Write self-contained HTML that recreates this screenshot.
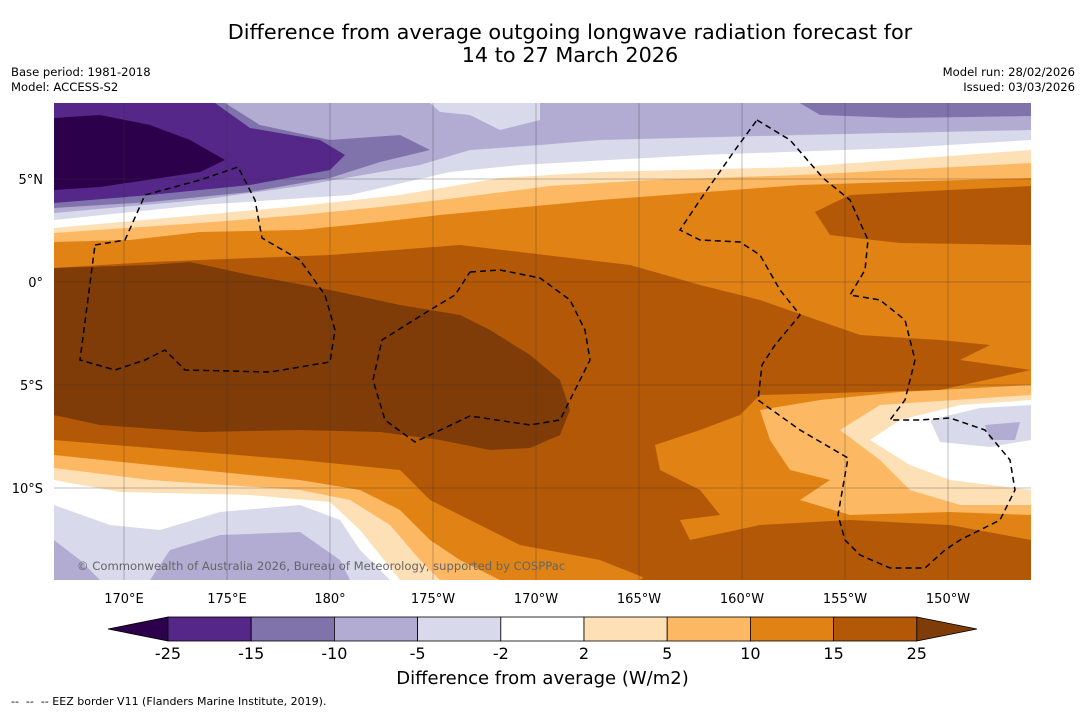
<!DOCTYPE html>
<html><head><meta charset="utf-8"><style>
body{margin:0;background:#fff;font-family:"DejaVu Sans",sans-serif;}
#root{position:relative;width:1085px;height:713px;overflow:hidden;background:#fff;}
.t{position:absolute;white-space:nowrap;}
</style></head><body>
<div id="root">
<div class="t" style="left:0;width:1140px;text-align:center;top:21px;font-size:20.8px;line-height:23px;color:#000">Difference from average outgoing longwave radiation forecast for<br>14 to 27 March 2026</div>
<div class="t" style="left:11px;top:65px;font-size:11.6px;line-height:15px">Base period: 1981-2018<br>Model: ACCESS-S2</div>
<div class="t" style="right:10px;top:65px;font-size:11.6px;line-height:15px;text-align:right">Model run: 28/02/2026<br>Issued: 03/03/2026</div>
<svg id="svg" width="1085" height="713" style="position:absolute;left:0;top:0"></svg>
<div class="t" style="left:0;width:1085px;text-align:center;top:668px;font-size:18px">Difference from average (W/m2)</div>
<div class="t" style="left:11px;top:695px;font-size:11px">-- &nbsp;-- &nbsp;-- EEZ border V11 (Flanders Marine Institute, 2019).</div>
</div>
<script>
const levels=[-25,-15,-10,-5,-2,2,5,10,15,25];
const colors=["#2d004b","#542788","#8073ac","#b2abd2","#d8daeb","#ffffff","#fee0b6","#fdb863","#e08214","#b35806","#7f3b08"];
const lonTicks=[170,175,180,-175,-170,-165,-160,-155,-150];
const lonLabels=["170°E","175°E","180°","175°W","170°W","165°W","160°W","155°W","150°W"];
const latTicks=[5,0,-5,-10];
const latLabels=["5°N","0°","5°S","10°S"];
const NS="http://www.w3.org/2000/svg";
const FF='DejaVu Sans';
const svg=document.getElementById('svg');
const X0=54,X1=1031,Y0=103,Y1=580;
function xLon(l){const e=l<0?l+360:l;return 124+(e-170)*20.6;}
function yLat(a){return 282-a*20.6;}
function mk(tag,at,name){const e=document.createElementNS(NS,tag);for(const k in at)e.setAttribute(k,at[k]);


svg.appendChild(e);return e;}
const clip=mk('clipPath',{id:'mc'},'map-clip');
const cr=document.createElementNS(NS,'rect');cr.setAttribute('x',X0);cr.setAttribute('y',Y0);cr.setAttribute('width',X1-X0);cr.setAttribute('height',Y1-Y0);clip.appendChild(cr);
const g=mk('g',{'clip-path':'url(#mc)'},'map-area');
function poly(pts,c,name){const e=document.createElementNS(NS,'polygon');e.setAttribute('points',pts.map(p=>p.join(',')).join(' '));e.setAttribute('fill',c);


g.appendChild(e);}
const T=[[1031,103],[54,103]], B=[[1031,580],[54,580]];
poly([[54,103],[1031,103],[1031,580],[54,580]],colors[9],'band-15-25');
poly([...T,[54,268],[150,262],[330,255],[460,245],[630,265],[700,285],[760,300],[860,335],[940,340],[990,345],[960,360],[1031,370]].reverse(),colors[8],'band-10-15-north');
poly([[815,212],[850,195],[950,190],[1031,186],[1031,245],[900,243],[830,235]],colors[9],'band-15-25-ne');
poly([...T,[54,242],[130,240],[200,232],[300,230],[380,222],[440,215],[600,200],[800,185],[1031,178]].reverse(),colors[7],'band-5-10-north');
poly([...T,[54,233],[200,223],[300,215],[380,207],[440,200],[550,186],[650,180],[800,175],[1031,163]].reverse(),colors[6],'band-2-5-north');
poly([...T,[54,228],[200,215],[300,206],[400,195],[500,178],[600,172],[800,167],[1031,150]].reverse(),colors[5],'band-white-north');
poly([...T,[54,220],[200,205],[350,195],[450,172],[520,165],[700,155],[900,148],[1031,140]].reverse(),colors[4],'band-m2-north');
poly([...T,[54,213],[200,200],[300,186],[420,165],[470,150],[540,145],[600,140],[800,135],[1031,130]].reverse(),colors[3],'band-m5-north');
poly([[430,103],[540,103],[540,120],[500,130],[470,115],[440,112]],colors[4],'band-m2-top');
poly([[54,103],[225,103],[260,125],[330,140],[400,135],[430,150],[380,162],[330,178],[250,192],[150,202],[54,208]],colors[2],'band-m10-nw');
poly([[800,103],[1031,103],[1031,116],[900,118],[820,115]],colors[2],'band-m10-ne');
poly([[54,103],[215,103],[250,128],[320,140],[345,155],[330,170],[250,185],[150,195],[54,203]],colors[1],'band-m15-nw');
poly([[54,118],[100,115],[150,125],[190,140],[225,160],[200,172],[100,187],[54,190]],colors[0],'band-m25-nw');
poly([[54,268],[150,265],[190,262],[250,275],[330,290],[400,305],[460,315],[490,330],[530,355],[560,380],[570,410],[560,435],[530,448],[490,450],[440,440],[380,432],[300,430],[200,432],[100,425],[54,415]],colors[10],'band-25plus');
poly([[455,290],[480,270],[520,268],[560,280],[600,295],[640,300],[660,310],[560,320],[480,315]],colors[9],'band-15-25-mid');
poly([...B,[54,440],[200,452],[300,460],[400,470],[430,500],[470,520],[520,545],[600,560],[650,580]],colors[8],'band-10-15-sw');
poly([[54,580],[500,580],[460,560],[430,540],[400,510],[360,490],[300,480],[200,470],[54,455]],colors[7],'band-5-10-sw');
poly([[54,580],[440,580],[420,560],[390,525],[350,500],[300,490],[150,480],[54,468]],colors[6],'band-2-5-sw');
poly([[54,580],[400,580],[360,530],[330,502],[250,495],[120,492],[54,480]],colors[5],'band-white-sw');
poly([[54,580],[390,580],[360,550],[340,520],[300,505],[220,512],[160,530],[110,525],[54,505]],colors[4],'band-m2-sw');
poly([[54,540],[80,560],[100,580],[54,580]],colors[3],'band-m5-sw-a');
poly([[150,580],[170,550],[220,535],[300,532],[340,560],[350,580]],colors[3],'band-m5-sw-b');
poly([[1031,370],[940,390],[760,395],[740,415],[700,430],[655,445],[660,470],[700,490],[720,515],[680,520],[690,540],[1031,540]],colors[8],'band-10-15-se');
poly([[640,580],[690,540],[760,525],[850,520],[950,525],[1031,540],[1031,580]],colors[9],'band-15-25-se');
poly([[1031,385],[900,392],[820,400],[760,410],[770,440],[790,470],[830,480],[800,500],[850,515],[950,512],[1031,515]],colors[7],'band-5-10-se');
poly([[1031,395],[880,405],[840,430],[880,460],[910,490],[960,505],[1031,505]],colors[6],'band-2-5-se');
poly([[1031,400],[960,405],[900,420],[870,440],[910,465],[950,480],[1031,490]],colors[5],'band-white-se');
poly([[930,420],[980,408],[1031,405],[1031,440],[990,447],[940,442]],colors[4],'band-m2-se');
poly([[985,425],[1020,422],[1015,440],[990,440]],colors[3],'band-m5-se');
lonTicks.forEach((l,i)=>{const x=xLon(l);
mk('line',{x1:x,x2:x,y1:Y0,y2:Y1,stroke:'#333','stroke-width':0.5,'stroke-opacity':0.6},'lon-gridline');
mk('text',{x:x,y:603,'text-anchor':'middle','font-size':13,'font-family':FF},'lon-tick-label').textContent=lonLabels[i];});
latTicks.forEach((a,i)=>{const y=yLat(a);
mk('line',{x1:X0,x2:X1,y1:y,y2:y,stroke:'#333','stroke-width':0.5,'stroke-opacity':0.6},'lat-gridline');
mk('text',{x:43,y:y+5,'text-anchor':'end','font-size':13,'font-family':FF},'lat-tick-label').textContent=latLabels[i];});
const eez=[
[[95,245],[125,240],[145,195],[200,180],[238,167],[255,200],[262,238],[300,260],[325,295],[335,330],[330,362],[270,372],[185,370],[165,350],[145,360],[115,370],[80,360],[95,245]],
[[470,272],[500,270],[540,278],[570,300],[585,330],[590,360],[575,390],[560,420],[530,425],[470,416],[415,442],[385,420],[373,380],[382,340],[430,310],[455,295],[470,272]],
[[757,120],[790,140],[823,178],[850,200],[868,240],[865,270],[850,295],[880,300],[905,320],[915,360],[905,400],[890,420],[920,420],[950,418],[985,430],[1010,460],[1015,490],[1000,520],[960,540],[945,550],[925,568],[890,568],[860,555],[845,540],[838,515],[848,458],[800,430],[758,400],[762,365],[775,345],[800,315],[780,290],[760,255],[740,242],[700,240],[680,230],[700,200],[735,150],[757,120]]];
eez.forEach(p=>{const e=document.createElementNS(NS,'polyline');e.setAttribute('points',p.map(q=>q.join(',')).join(' '));e.setAttribute('fill','none');e.setAttribute('stroke','#000');e.setAttribute('stroke-width',1.5);e.setAttribute('stroke-dasharray','6,4');


g.appendChild(e);});
const ct=mk('text',{x:77,y:570,'font-size':11.6,fill:'#666','font-family':FF},'copyright-text');ct.textContent='© Commonwealth of Australia 2026, Bureau of Meteorology, supported by COSPPac';
const cx0=168,cw=83.2,cy=617,ch=24;
mk('polygon',{points:`${cx0},${cy} 108,${cy+ch/2} ${cx0},${cy+ch}`,fill:colors[0],stroke:'#000','stroke-width':0.8},'colorbar-extend-low');
for(let i=0;i<levels.length-1;i++){
mk('rect',{x:cx0+i*cw,y:cy,width:cw,height:ch,fill:colors[i+1],stroke:'#000','stroke-width':0.8},'colorbar-box');}
const xe=cx0+(levels.length-1)*cw;
mk('polygon',{points:`${xe},${cy} 977,${cy+ch/2} ${xe},${cy+ch}`,fill:colors[10],stroke:'#000','stroke-width':0.8},'colorbar-extend-high');
levels.forEach((v,i)=>{mk('text',{x:cx0+i*cw,y:659,'text-anchor':'middle','font-size':16,'font-family':FF},'colorbar-tick-label').textContent=String(v);});
</script>
</body></html>
